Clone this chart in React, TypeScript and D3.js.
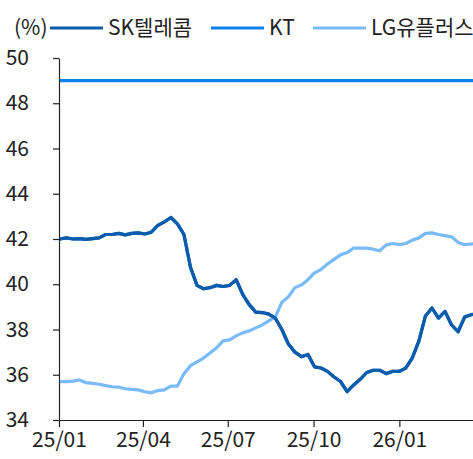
import React, { useEffect, useRef } from 'react';
import * as d3 from 'd3';

// weekly observations starting 2025-01-02
const startDate = new Date(2025, 0, 2);

const skTelecom = [
  42.0, 42.05, 42.0, 42.02, 41.98, 42.02, 42.05, 42.2, 42.2, 42.25,
  42.18, 42.25, 42.27, 42.22, 42.3, 42.6, 42.76, 42.95, 42.67, 42.2,
  40.75, 39.95, 39.8, 39.85, 39.95, 39.9, 39.95, 40.2, 39.55, 39.1,
  38.77, 38.75, 38.68, 38.5, 38.0, 37.36, 37.0, 36.8, 36.9, 36.35,
  36.3, 36.15, 35.9, 35.7, 35.25, 35.55, 35.8, 36.1, 36.2, 36.2,
  36.05, 36.15, 36.15, 36.3, 36.75, 37.5, 38.6, 38.95, 38.5, 38.8,
  38.2, 37.9, 38.55, 38.65, 38.7,
];

const ktValues = [
  49, 49, 49, 49, 49, 49, 49, 49, 49, 49,
  49, 49, 49, 49, 49, 49, 49, 49, 49, 49,
  49, 49, 49, 49, 49, 49, 49, 49, 49, 49,
  49, 49, 49, 49, 49, 49, 49, 49, 49, 49,
  49, 49, 49, 49, 49, 49, 49, 49, 49, 49,
  49, 49, 49, 49, 49, 49, 49, 49, 49, 49,
  49, 49, 49, 49, 49,
];

const lgUplus = [
  35.7, 35.7, 35.72, 35.77, 35.65, 35.62, 35.58, 35.52, 35.47, 35.45,
  35.38, 35.35, 35.33, 35.25, 35.2, 35.3, 35.33, 35.5, 35.5, 36.05,
  36.4, 36.57, 36.74, 36.96, 37.19, 37.5, 37.54, 37.72, 37.85, 37.94,
  38.07, 38.2, 38.38, 38.56, 39.2, 39.45, 39.85, 39.97, 40.2, 40.5,
  40.65, 40.9, 41.1, 41.3, 41.4, 41.6, 41.6, 41.6, 41.55, 41.48,
  41.74, 41.8, 41.75, 41.8, 41.95, 42.05, 42.25, 42.27, 42.2, 42.15,
  42.1, 41.85, 41.75, 41.78, 41.8,
];

const yTicks = [34, 36, 38, 40, 42, 44, 46, 48, 50];
const xTickDates = [
  new Date(2025, 0, 1),
  new Date(2025, 3, 1),
  new Date(2025, 6, 1),
  new Date(2025, 9, 1),
  new Date(2026, 0, 1),
];

const seriesNames = ['SK텔레콤', 'KT', 'LG유플러스'];
const seriesColors = ['#0a5cad', '#0b80ee', '#78bbf8'];

const FONT = "'Noto Sans CJK KR', 'Noto Sans', sans-serif";

const App = () => {
  const svgRef = useRef<SVGSVGElement>(null);
  const svgWidth = 473;
  const svgHeight = 459;
  const margin = { top: 58, right: 0, bottom: 39, left: 59 };

  useEffect(() => {
    const svg = d3.select(svgRef.current);
    svg.selectAll('*').remove();

    const dates = skTelecom.map((_, i) => d3.timeDay.offset(startDate, i * 7));

    const x = d3.scaleTime()
      .domain([new Date(2025, 0, 1), new Date(2026, 2, 21)])
      .range([margin.left, svgWidth - margin.right]);

    const y = d3.scaleLinear()
      .domain([34, 50])
      .range([svgHeight - margin.bottom, margin.top]);

    svg.append('clipPath')
      .attr('id', 'plot-clip')
      .append('rect')
      .attr('x', margin.left)
      .attr('y', 0)
      .attr('width', svgWidth - margin.left)
      .attr('height', svgHeight);

    // y axis
    const yAxis = svg.append('g')
      .attr('transform', `translate(${margin.left},0)`)
      .call(d3.axisLeft(y).tickValues(yTicks).tickSize(6).tickSizeOuter(0).tickPadding(24).tickFormat(d3.format('d')));
    yAxis.select('.domain').attr('stroke', '#222').attr('stroke-width', 1.2);
    yAxis.selectAll('.tick line').attr('stroke', '#222').attr('stroke-width', 1.2);
    yAxis.selectAll('.tick text')
      .attr('fill', '#222')
      .style('font-family', FONT)
      .style('font-size', '21px');

    // x axis
    const xAxis = svg.append('g')
      .attr('transform', `translate(0,${svgHeight - margin.bottom})`)
      .call(d3.axisBottom(x).tickValues(xTickDates).tickSize(7).tickSizeOuter(0).tickPadding(5)
        .tickFormat(d3.timeFormat('%y/%m') as any));
    xAxis.select('.domain').attr('stroke', '#222').attr('stroke-width', 1.2);
    xAxis.selectAll('.tick line').attr('stroke', '#222').attr('stroke-width', 1.2);
    xAxis.selectAll('.tick text')
      .attr('fill', '#222')
      .style('font-family', FONT)
      .style('font-size', '21px');

    const line = d3.line<number>()
      .x((_, i) => x(dates[i]))
      .y(d => y(d));

    const plot = svg.append('g').attr('clip-path', 'url(#plot-clip)');
    [skTelecom, ktValues, lgUplus].forEach((vals, k) => {
      plot.append('path')
        .datum(vals)
        .attr('fill', 'none')
        .attr('stroke', seriesColors[k])
        .attr('stroke-width', 3.2)
        .attr('stroke-linejoin', 'round')
        .attr('d', line);
    });
    // SK drawn above LG
    plot.append('path')
      .datum(skTelecom)
      .attr('fill', 'none')
      .attr('stroke', seriesColors[0])
      .attr('stroke-width', 3.2)
      .attr('stroke-linejoin', 'round')
      .attr('d', line);

    // legend
    const legend = svg.append('g').style('font-family', FONT).style('font-size', '21px');
    legend.append('text')
      .attr('x', 14)
      .attr('y', 35)
      .attr('fill', '#222')
      .text('(%)');
    const legendX = [50, 211, 313];
    seriesNames.forEach((name, k) => {
      legend.append('line')
        .attr('x1', legendX[k])
        .attr('x2', legendX[k] + 53)
        .attr('y1', 28)
        .attr('y2', 28)
        .attr('stroke', seriesColors[k])
        .attr('stroke-width', 3.2);
      legend.append('text')
        .attr('x', legendX[k] + 58)
        .attr('y', 35)
        .attr('fill', '#222')
        .text(name);
    });
  }, []);

  return (
    <svg
      ref={svgRef}
      width={svgWidth}
      height={svgHeight}
      style={{ position: 'absolute', left: 0, top: 0, background: '#fff' }}
    ></svg>
  );
};

export default App;
